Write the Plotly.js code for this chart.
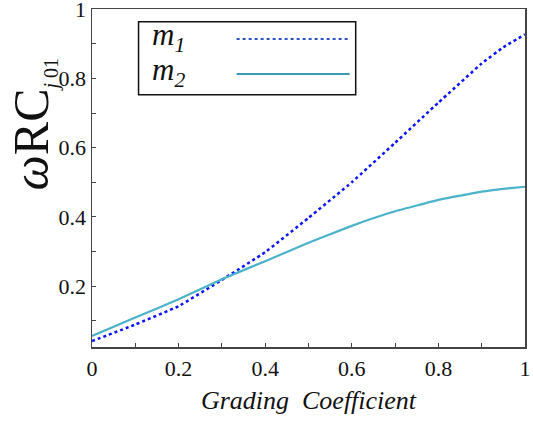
<!DOCTYPE html>
<html>
<head>
<meta charset="utf-8">
<script src="https://cdn.plot.ly/plotly-3.0.1.min.js"></script>
<style>html,body{margin:0;padding:0;background:#fff;}#chart{width:533px;height:421px;}</style>
</head>
<body>
<div id="chart"></div>
<script>
// Data
const gradingCoefficient = [0, 0.1, 0.2, 0.3, 0.4, 0.5, 0.6, 0.7, 0.8, 0.9, 0.95, 1.0];
const m1Values = [0.041, 0.089, 0.142, 0.218, 0.298, 0.397, 0.500, 0.614, 0.730, 0.843, 0.89, 0.927];
const m2Values = [0.056, 0.109, 0.162, 0.220, 0.272, 0.325, 0.374, 0.416, 0.449, 0.473, 0.481, 0.487];
const seriesNames = ["m<sub>1</sub>", "m<sub>2</sub>"];
const xTickVals = [0, 0.1, 0.2, 0.3, 0.4, 0.5, 0.6, 0.7, 0.8, 0.9, 1];
const xTickText = ["0", "", "0.2", "", "0.4", "", "0.6", "", "0.8", "", "1"];
const yTickVals = [0.1, 0.2, 0.3, 0.4, 0.5, 0.6, 0.7, 0.8, 0.9, 1];
const yTickText = ["", "0.2", "", "0.4", "", "0.6", "", "0.8", "", "1"];

const serif = "Liberation Serif";
const m1Color = "#0a14ff";
const m2Color = "#4ab3c9";

const traces = [
  {x: gradingCoefficient, y: m1Values, name: seriesNames[0], mode: "lines",
   line: {color: m1Color, width: 2.5, dash: "dot", shape: "spline", smoothing: 0.3}},
  {x: gradingCoefficient, y: m2Values, name: seriesNames[1], mode: "lines",
   line: {color: m2Color, width: 2.2, shape: "spline", smoothing: 0.3}}
];

const axisCommon = {
  showline: true, linecolor: "#444", linewidth: 1.5, mirror: true,
  ticks: "inside", ticklen: 4, tickwidth: 1, tickcolor: "#444",
  showgrid: false, zeroline: false,
  tickfont: {family: serif, size: 22, color: "#111"},
  tickmode: "array", ticklabeloverflow: "allow"
};

const layout = {
  width: 533, height: 421,
  margin: {l: 92, r: 8, t: 9, b: 74},
  paper_bgcolor: "#fff", plot_bgcolor: "#fff",
  showlegend: false,
  font: {family: serif},
  xaxis: Object.assign({}, axisCommon, {
    range: [0, 1], tickvals: xTickVals, ticktext: xTickText,
    ticklabelstandoff: 1,
    title: {text: "<i>Grading  Coefficient</i>", font: {family: serif, size: 26, color: "#111"}, standoff: 11}
  }),
  yaxis: Object.assign({}, axisCommon, {
    range: [0.024, 1.0005], tickvals: yTickVals, ticktext: yTickText,
    ticklabelstandoff: 0
  }),
  shapes: [
    {type: "rect", xref: "paper", yref: "paper", x0: 0.1075, x1: 0.609, y0: 0.746, y1: 0.9625,
     line: {color: "#111", width: 1.5}, fillcolor: "#fff", layer: "above"},
    {type: "line", xref: "paper", yref: "paper", x0: 0.334, x1: 0.595, y0: 0.911, y1: 0.911,
     line: {color: "#2f52c8", width: 2, dash: "dot"}, layer: "above"},
    {type: "line", xref: "paper", yref: "paper", x0: 0.334, x1: 0.595, y0: 0.808, y1: 0.808,
     line: {color: "#3a98b0", width: 2}, layer: "above"}
  ],
  annotations: [
    {xref: "paper", yref: "paper", x: 0.135, y: 0.918, xanchor: "left", yanchor: "middle",
     text: "<i>" + seriesNames[0] + "</i>", showarrow: false, font: {family: serif, size: 31, color: "#111"}},
    {xref: "paper", yref: "paper", x: 0.135, y: 0.815, xanchor: "left", yanchor: "middle",
     text: "<i>" + seriesNames[1] + "</i>", showarrow: false, font: {family: serif, size: 31, color: "#111"}},
    {xref: "paper", yref: "paper", x: -0.135, y: 0.66, xanchor: "center", yanchor: "middle",
     textangle: -90, showarrow: false,
     text: "<i>ω</i>RC<sub><span style='font-size:20px'><i>j</i> 01</span></sub>",
     font: {family: serif, size: 50, color: "#111"}}
  ]
};

Plotly.newPlot("chart", traces, layout, {displayModeBar: false, staticPlot: true});
</script>
</body>
</html>
